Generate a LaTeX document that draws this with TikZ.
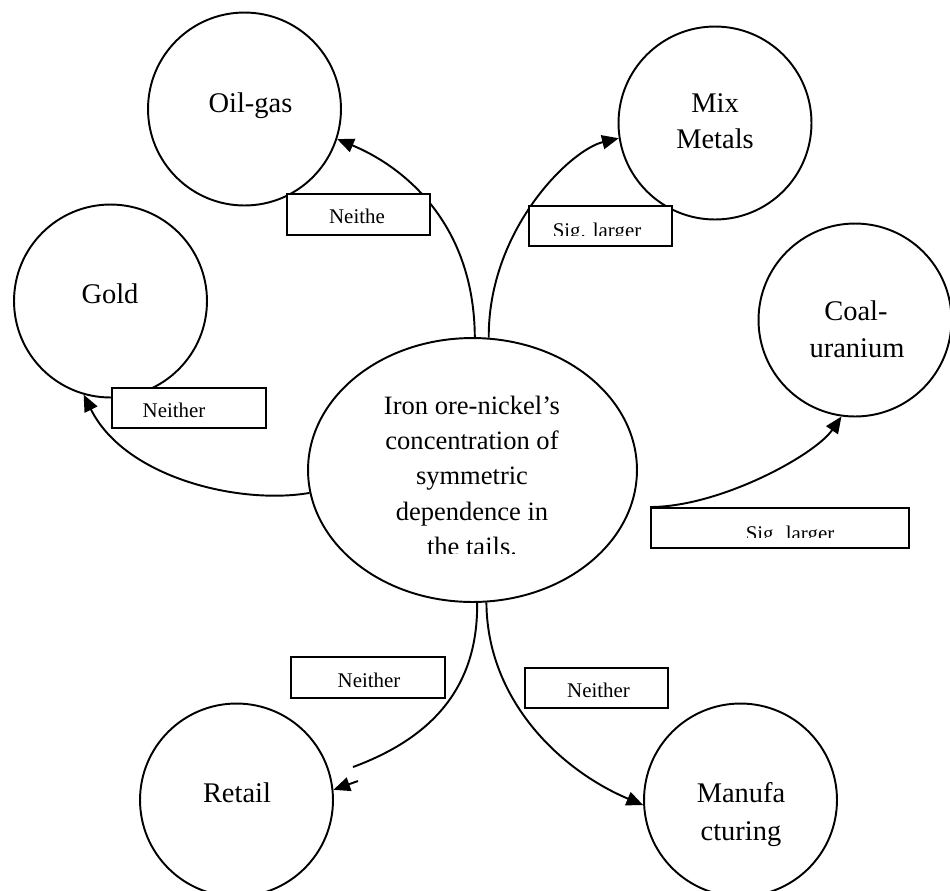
\documentclass[tikz,border=0pt]{standalone}
\usepackage{fontspec}
\setmainfont{Liberation Serif}
\usetikzlibrary{shapes.geometric,arrows.meta}

\begin{document}
\begin{tikzpicture}[x=0.02cm,y=-0.02cm,
  sector/.style={draw,circle,line width=1.1pt,minimum size=3.86cm,inner sep=0pt},
  hub/.style={draw,ellipse,line width=1.1pt,minimum width=6.58cm,minimum height=5.28cm,inner sep=0pt},
  tag/.style={draw,fill=white,line width=1.1pt,inner sep=0pt,anchor=north west},
  bigtext/.style={font=\fontsize{16.2}{20}\selectfont,inner sep=0pt,anchor=base},
  hubtext/.style={font=\fontsize{15.1}{20}\selectfont,inner sep=0pt,anchor=base},
  tagtext/.style={font=\fontsize{11.9}{14}\selectfont,inner sep=0pt,anchor=base},
  link/.style={line width=1.1pt,-{Triangle[length=9.5pt,width=8pt]}},
  plainlink/.style={line width=1.1pt}]

\clip (0,0) rectangle (950,890);

% central ellipse and the six sector circles
\node[hub] (hub) at (472.5,470) {};
\node[sector] (oil) at (244.5,109) {};
\node[sector] (mix) at (715,123) {};
\node[sector] (gold) at (110.5,301) {};
\node[sector] (coal) at (855,320) {};
\node[sector] (retail) at (236.5,800) {};
\node[sector] (manu) at (740.5,800) {};

% circle captions
\node[bigtext] (t-oil) at (250.5,112) {Oil-gas};
\node[bigtext] (t-mix1) at (715,112) {Mix};
\node[bigtext] (t-mix2) at (715,148) {Metals};
\node[bigtext] (t-gold) at (110,303) {Gold};
\node[bigtext] (t-coal1) at (856,320) {Coal-};
\node[bigtext] (t-coal2) at (857,357) {uranium};
\node[bigtext] (t-retail) at (237,802) {Retail};
\node[bigtext] (t-manu1) at (741,802) {Manufa};
\node[bigtext] (t-manu2) at (741,840) {cturing};

% ellipse caption, cut off at the bottom of its text area
\begin{scope}
  \clip (320,380) rectangle (625,553);
  \node[hubtext] (h1) at (472,414) {Iron ore-nickel’s};
  \node[hubtext] (h2) at (472,449) {concentration of};
  \node[hubtext] (h3) at (472,484.5) {symmetric};
  \node[hubtext] (h4) at (472,520) {dependence in};
  \node[hubtext] (h5) at (472,555) {the tails.};
\end{scope}

% connectors
\draw[link] (hub.89) .. controls (474,220) and (400,165) .. (oil.-18);
\draw[link] (hub.83) .. controls (488,230) and (570,150) .. (mix.189);
\draw[link] (hub.188) .. controls (240,505) and (125,478) .. (gold.254);
\coordinate (rgap) at (353,767);
\coordinate (rstub) at (358,781);
\draw[plainlink] (hub.-88) .. controls (478,680) and (440,735) .. (rgap);
\draw[link] (rstub) -- (retail.6);
\draw[link] (hub.-84) .. controls (487,700) and (560,770) .. (manu.183);

% label boxes
\node[tag,minimum width=2.86cm,minimum height=0.82cm] (b-oil) at (286,193) {};
\node[tag,minimum width=2.86cm,minimum height=0.80cm] (b-mix) at (528,205) {};
\node[tag,minimum width=3.08cm,minimum height=0.80cm] (b-gold) at (111,387) {};
\node[tag,minimum width=5.16cm,minimum height=0.80cm] (b-coal) at (650,507) {};
\node[tag,minimum width=3.08cm,minimum height=0.82cm] (b-retail) at (290,656) {};
\node[tag,minimum width=2.86cm,minimum height=0.80cm] (b-manu) at (524,667) {};

\draw[link] (b-coal.north west) .. controls (720,507) and (815,455) .. (coal.262);

% label texts
\node[tagtext] (l-oil) at (357,223) {Neithe};
\node[tagtext] (l-gold) at (174,417) {Neither};
\node[tagtext] (l-retail) at (369,687) {Neither};
\node[tagtext] (l-manu) at (598.5,697) {Neither};
\begin{scope}
  \clip (529,206) rectangle (670,235);
  \node[tagtext] (l-mix) at (597,237) {Sig. larger};
\end{scope}
\begin{scope}
  \clip (651,508) rectangle (907,537);
  \node[tagtext] (l-coal) at (790,540) {Sig. larger};
\end{scope}
\end{tikzpicture}
\end{document}
